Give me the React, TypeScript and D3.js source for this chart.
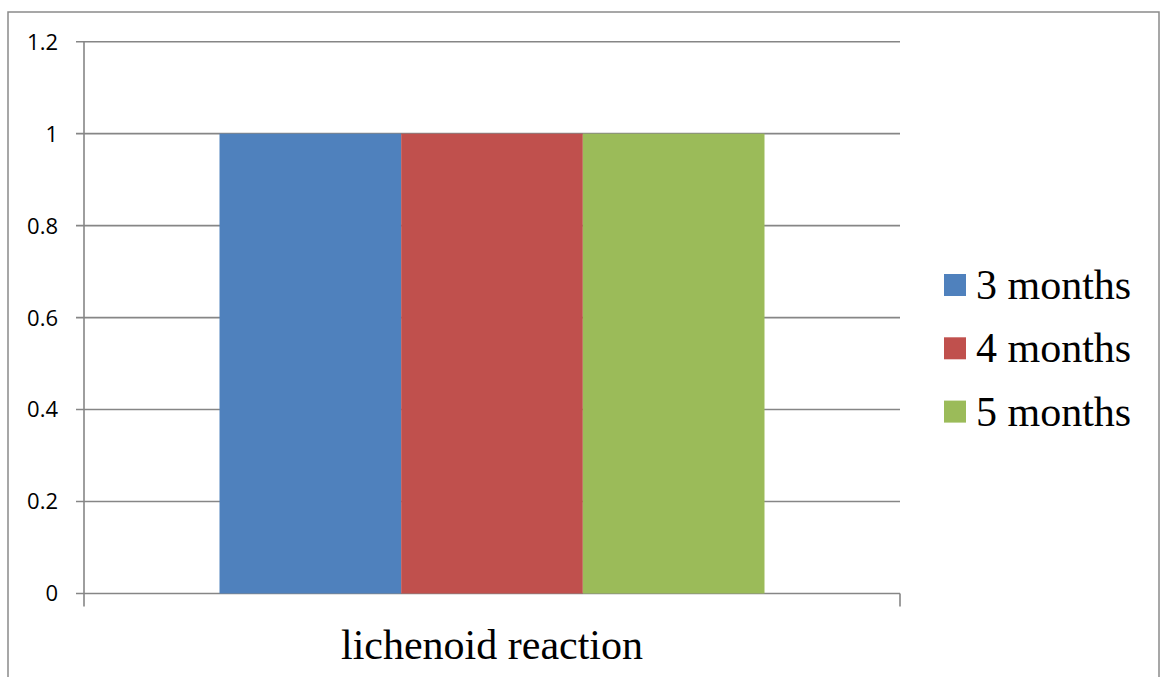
import React from "react";
import * as d3 from "d3";

const categories = ["lichenoid reaction"];
const seriesNames = ["3 months", "4 months", "5 months"];
const seriesValues = [[1], [1], [1]];
const seriesColors = ["#4f81bd", "#c0504d", "#9bbb59"];
const yTicks = [0, 0.2, 0.4, 0.6, 0.8, 1, 1.2];
const yTickLabels = ["0", "0.2", "0.4", "0.6", "0.8", "1", "1.2"];

export default function App() {
  const W = 1160, H = 677;
  const left = 84, right = 900, top = 41.7, bottom = 593.5;
  const y = d3.scaleLinear().domain([0, 1.2]).range([bottom, top]);
  const x0 = d3.scaleBand().domain(categories).range([left, right]).paddingInner(0).paddingOuter(0);
  const groupW = 545;
  const x1 = d3.scaleBand().domain(seriesNames).range([0, groupW]);
  const grid = "#868686";
  return (
    <svg width={W} height={H} style={{ position: "absolute", left: 0, top: 0 }}>
      <rect x={0} y={0} width={W} height={H} fill="#fff" />
      <rect x={8} y={12} width={1151} height={700} fill="none" stroke="#8a8a8a" strokeWidth={1.5} />
      {yTicks.map((t, i) => (
        <g key={i}>
          <line x1={left - 8} x2={right} y1={y(t)} y2={y(t)} stroke={grid} strokeWidth={1.6} />
          <text x={58} y={y(t)} dy="0.36em" textAnchor="end" fontFamily="'Open Sans', sans-serif" fontSize={22} fill="#000">
            {yTickLabels[i]}
          </text>
        </g>
      ))}
      <line x1={left} x2={left} y1={top} y2={bottom + 13} stroke={grid} strokeWidth={1.6} />
      <line x1={right} x2={right} y1={bottom} y2={bottom + 13} stroke={grid} strokeWidth={1.6} />
      {categories.map((c, ci) => {
        const gx = (x0(c) as number) + (x0.bandwidth() - groupW) / 2;
        return (
          <g key={c}>
            {seriesNames.map((s, si) => (
              <rect key={s} x={gx + (x1(s) as number)} y={y(seriesValues[si][ci])} width={x1.bandwidth()} height={bottom - y(seriesValues[si][ci])} fill={seriesColors[si]} />
            ))}
            <text x={(x0(c) as number) + x0.bandwidth() / 2} y={659} textAnchor="middle" fontFamily="'Liberation Serif', 'Times New Roman', serif" fontSize={42} fill="#000">
              {c}
            </text>
          </g>
        );
      })}
      {seriesNames.map((s, i) => (
        <g key={s} transform={`translate(944, ${274 + i * 63.3})`}>
          <rect x={0} y={0} width={22} height={22} fill={seriesColors[i]} />
          <text x={32} y={25} fontFamily="'Liberation Serif', 'Times New Roman', serif" fontSize={42} fill="#000">
            {s}
          </text>
        </g>
      ))}
    </svg>
  );
}
